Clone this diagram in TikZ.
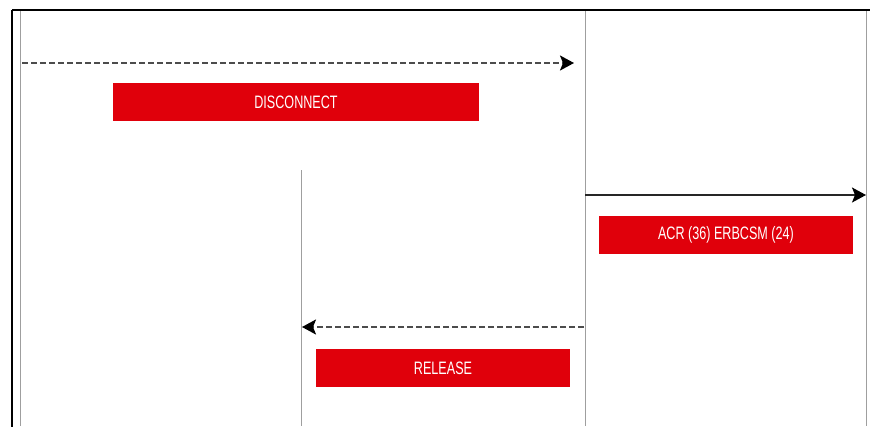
\documentclass[tikz,border=0pt]{standalone}
\usepackage{fontspec}
\newfontfamily\estreita{Liberation Sans}[FakeStretch=0.7]
\usepackage{xcolor}
\usepackage{tikz}
\usetikzlibrary{arrows.meta}
\definecolor{vermelho}{HTML}{E0000B}
\tikzset{
  rotulo/.style={fill=vermelho, text=white, minimum width=#1, minimum height=38pt, inner sep=0pt, font=\estreita\fontsize{18}{20}\selectfont},
  rotulo/.default=254pt,
  vida/.style={draw=gray!75, line width=1pt},
  seta/.style={-{Stealth[length=14pt,width=15pt,inset=3pt,black]}, line width=1.6pt, draw=black!85},
  retorno/.style={seta, dash pattern=on 6pt off 3pt, line width=2pt, draw=black!70},
}

\begin{document}
\begin{tikzpicture}[x=1pt, y=-1pt]
  \useasboundingbox (0,0) rectangle (870,426);
  \clip (0,0) rectangle (870,426);
  % moldura e linhas de vida
  \draw[line width=2pt] (12,10) -- (900,10);
  \draw[line width=2pt] (12,10) -- (12,450);
  \draw[vida] (20,11) -- (20,426);
  \draw[vida] (301,170) -- (301,426);
  \draw[vida] (585,11) -- (585,426);
  \draw[vida] (866,11) -- (866,426);

  \coordinate (d0) at (22,63);
  \coordinate (d1) at (574,63);
  \coordinate (a0) at (585,195);
  \coordinate (a1) at (866,195);
  \coordinate (r0) at (584,327);
  \coordinate (r1) at (302,327);

  \draw[retorno] (d0) -- (d1);
  \node[rotulo=366pt] (disc) at (296,102) {DISCONNECT};
  \draw[seta] (a0) -- (a1);
  \node[rotulo] (acr) at (726,235) {ACR (36) ERBCSM (24)};
  \draw[retorno] (r0) -- (r1);
  \node[rotulo] (rel) at (443,368) {RELEASE};
\end{tikzpicture}
\end{document}
